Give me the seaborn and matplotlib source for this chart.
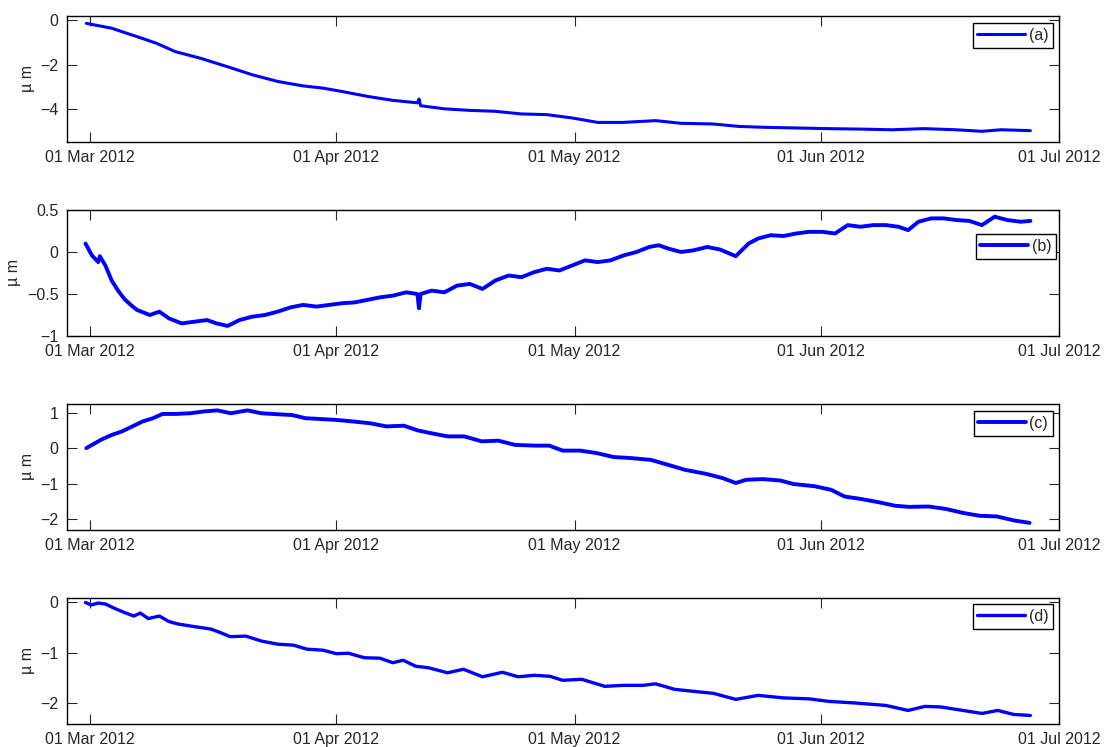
import numpy as np
import pandas as pd
import matplotlib as mpl
mpl.use('Agg')
import matplotlib.pyplot as plt
import matplotlib.dates as dates
import seaborn as sns

# days after 01 Mar 2012, values in micro metre
days_a = [-0.5, 2.7, 5.9, 8.3, 10.7, 13.9, 17.2, 20.4, 23.6, 26.8, 29.3, 31.7, 34.9, 38.1,
          41.2, 41.4, 41.6, 44.6, 47.8, 51.0, 54.3, 57.5, 60.7, 63.9, 67.1, 71.2, 74.4, 78.4,
          81.7, 84.9, 88.9, 92.9, 97.0, 101.0, 105.0, 109.0, 112.3, 114.7, 118.4]
vals_a = [-0.15, -0.37, -0.75, -1.04, -1.42, -1.72, -2.09, -2.46, -2.76, -2.96, -3.06, -3.21, -3.43, -3.61,
          -3.72, -3.55, -3.85, -3.99, -4.06, -4.10, -4.22, -4.25, -4.40, -4.60, -4.60, -4.52, -4.64, -4.67,
          -4.78, -4.82, -4.85, -4.88, -4.90, -4.93, -4.88, -4.93, -5.00, -4.93, -4.97]

days_b = [-0.6, 0.2, 1.0, 1.2, 1.9, 2.7, 3.5, 4.3, 5.1, 5.9, 7.5, 8.7, 9.9, 11.5, 13.1, 14.7, 15.9,
          17.3, 18.8, 20.4, 22.0, 23.6, 25.2, 26.8, 28.5, 30.1, 31.7, 33.3, 34.9, 36.5, 38.1, 39.8,
          41.2, 41.4, 41.6, 43.0, 44.6, 46.2, 47.8, 49.4, 51.0, 52.7, 54.3, 55.9, 57.5, 59.1, 60.7,
          62.3, 63.9, 65.5, 67.2, 68.8, 70.4, 71.6, 72.8, 74.4, 76.0, 77.7, 79.3, 81.3, 82.9, 84.1,
          85.7, 87.3, 88.9, 90.5, 92.2, 93.8, 95.4, 97.0, 98.6, 100.2, 101.8, 103.0, 104.3, 105.9,
          107.5, 109.1, 110.7, 112.3, 113.9, 115.5, 117.2, 118.4]
vals_b = [0.10, -0.04, -0.12, -0.05, -0.16, -0.34, -0.46, -0.56, -0.63, -0.69, -0.75, -0.71, -0.79,
          -0.85, -0.83, -0.81, -0.85, -0.88, -0.81, -0.77, -0.75, -0.71, -0.66, -0.63, -0.65, -0.63,
          -0.61, -0.60, -0.57, -0.54, -0.52, -0.48, -0.50, -0.67, -0.50, -0.46, -0.48, -0.40, -0.38,
          -0.44, -0.34, -0.28, -0.30, -0.24, -0.20, -0.22, -0.16, -0.10, -0.12, -0.10, -0.04, 0.00,
          0.06, 0.08, 0.04, 0.00, 0.02, 0.06, 0.03, -0.05, 0.10, 0.16, 0.20, 0.19, 0.22, 0.24, 0.24,
          0.22, 0.32, 0.30, 0.32, 0.32, 0.30, 0.26, 0.36, 0.40, 0.40, 0.38, 0.37, 0.32, 0.42, 0.38,
          0.36, 0.37]

days_c = [-0.5, 0.6, 1.5, 2.7, 4.0, 5.3, 6.6, 7.9, 9.1, 10.8, 12.6, 14.3, 16.0, 17.7, 19.8, 21.5,
          23.7, 25.4, 27.1, 28.8, 31.1, 33.0, 35.2, 37.3, 39.5, 41.2, 42.9, 45.0, 47.1, 49.3, 51.4,
          53.5, 56.1, 57.8, 59.5, 61.7, 63.8, 65.9, 68.1, 70.6, 72.8, 74.9, 77.5, 79.6, 81.3, 82.6,
          84.7, 86.9, 88.6, 91.2, 93.3, 95.0, 97.1, 99.3, 101.4, 103.1, 105.6, 107.8, 109.9, 112.0,
          114.2, 116.3, 118.3]
vals_c = [0.00, 0.14, 0.25, 0.37, 0.47, 0.61, 0.75, 0.84, 0.96, 0.96, 0.98, 1.03, 1.06, 0.98, 1.06,
          0.98, 0.95, 0.93, 0.84, 0.82, 0.79, 0.75, 0.70, 0.61, 0.63, 0.50, 0.42, 0.33, 0.33, 0.19,
          0.21, 0.09, 0.07, 0.07, -0.07, -0.07, -0.14, -0.25, -0.28, -0.33, -0.47, -0.61, -0.72,
          -0.84, -0.98, -0.89, -0.87, -0.91, -1.01, -1.07, -1.17, -1.36, -1.43, -1.52, -1.62, -1.65,
          -1.64, -1.71, -1.82, -1.90, -1.92, -2.03, -2.10]

days_d = [-0.6, 0.1, 1.0, 1.9, 3.1, 4.3, 5.5, 6.3, 7.3, 8.7, 9.9, 11.1, 13.1, 15.2, 16.4, 17.6,
          19.6, 21.6, 23.6, 25.6, 27.3, 29.3, 31.0, 32.5, 34.5, 36.5, 38.1, 39.4, 41.0, 42.6, 45.0,
          47.0, 49.4, 51.9, 53.9, 55.9, 57.9, 59.5, 61.9, 64.8, 67.2, 69.6, 71.2, 73.6, 76.0, 78.5,
          81.3, 84.1, 87.3, 90.6, 93.0, 96.2, 100.2, 103.0, 105.1, 107.1, 109.9, 112.3, 114.3,
          116.3, 118.4]
vals_d = [0.00, -0.05, -0.01, -0.03, -0.12, -0.20, -0.27, -0.21, -0.32, -0.27, -0.38, -0.43, -0.48,
          -0.53, -0.60, -0.68, -0.67, -0.77, -0.83, -0.85, -0.93, -0.95, -1.02, -1.01, -1.10, -1.11,
          -1.20, -1.15, -1.27, -1.30, -1.40, -1.33, -1.48, -1.39, -1.48, -1.45, -1.47, -1.55, -1.53,
          -1.67, -1.65, -1.65, -1.62, -1.73, -1.77, -1.81, -1.93, -1.85, -1.90, -1.92, -1.97, -2.00,
          -2.05, -2.15, -2.07, -2.08, -2.15, -2.21, -2.15, -2.23, -2.25]

labels = ['(a)', '(b)', '(c)', '(d)']
ylims = [(-5.48, 0.18), (-1.0, 0.5), (-2.3, 1.24), (-2.42, 0.09)]
yticks = [[-4, -2, 0], [-1, -0.5, 0, 0.5], [-2, -1, 0, 1], [-2, -1, 0]]
legend_anchor = [(0.994, 0.944), (0.997, 0.81), (0.994, 0.944), (0.994, 0.952)]
widths = [2.2, 2.8, 2.8, 2.4]

start = pd.Timestamp('2012-03-01')

sns.set_style('white')
plt.rcParams['font.family'] = ['Liberation Sans', 'DejaVu Sans']
plt.rcParams['axes.unicode_minus'] = True

fig = plt.figure(figsize=(11.04, 7.47), dpi=100)
bottoms = [0.8099, 0.5502, 0.2905, 0.0308]

series = [(days_a, vals_a), (days_b, vals_b), (days_c, vals_c), (days_d, vals_d)]

for i, (d, v) in enumerate(series):
    ax = fig.add_axes([0.0607, bottoms[i], 0.8985, 0.1687])
    df = pd.DataFrame({'time': start + pd.to_timedelta(d, unit='D'), 'val': v})
    sns.lineplot(data=df, x='time', y='val', ax=ax, color='#0000ff',
                 linewidth=widths[i], label=labels[i], sort=False)
    ax.set_xlim(start - pd.Timedelta(days=2.93), pd.Timestamp('2012-07-01'))
    ax.set_ylim(*ylims[i])
    ax.set_yticks(yticks[i])
    ax.set_yticklabels([('%g' % t).replace('-', '\u2212') for t in yticks[i]])
    ax.xaxis.set_major_locator(dates.MonthLocator(bymonthday=1))
    ax.xaxis.set_major_formatter(dates.DateFormatter('%d %b %Y'))
    ax.set_xlabel('')
    ax.set_ylabel('\u00b5 m', fontsize=11.5, labelpad=4)
    ax.tick_params(direction='in', length=7, width=0.8, labelsize=11.5,
                   top=True, right=True, bottom=True, left=True, pad=6)
    for s in ax.spines.values():
        s.set_visible(True)
        s.set_color('black')
        s.set_linewidth(1.0)
    leg = ax.legend(loc='upper right', bbox_to_anchor=legend_anchor[i], fontsize=11.5,
                    frameon=True, fancybox=False, framealpha=1, edgecolor='black',
                    handlelength=3.0, handletextpad=0.2, borderpad=0.3,
                    borderaxespad=0.0)
    leg.get_frame().set_linewidth(1.0)

fig.savefig('out.png', dpi=100)
